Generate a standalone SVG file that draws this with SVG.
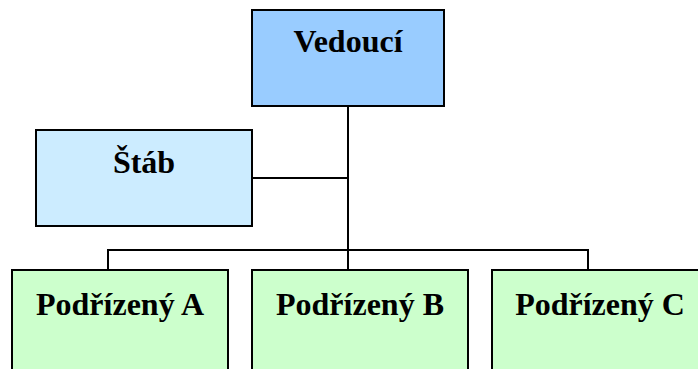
<svg xmlns="http://www.w3.org/2000/svg" width="698" height="369" viewBox="0 0 698 369">
  <style>
    .box { stroke: #000; stroke-width: 2; }
    .lead { fill: #99CCFF; }
    .staff { fill: #CCECFF; }
    .sub { fill: #CCFFCC; }
    .label { font-family: "Liberation Serif", "Times New Roman", serif; font-weight: bold; font-size: 32px; fill: #000; text-anchor: middle; }
    .wire { stroke: #000; stroke-width: 2; fill: none; }
  </style>
  <rect width="698" height="369" fill="#fff"/>

  <!-- connectors -->
  <g id="connectors">
    <line class="wire" x1="348" y1="106" x2="348" y2="270"/>
    <line class="wire" x1="252" y1="178" x2="348" y2="178"/>
    <polyline class="wire" points="108,270 108,250 588,250 588,270"/>
  </g>

  <g id="vedouci">
    <rect class="box lead" x="252" y="10" width="192" height="96"/>
    <text class="label" x="348" y="52">Vedoucí</text>
  </g>

  <g id="stab">
    <rect class="box staff" x="36" y="130" width="216" height="96"/>
    <text class="label" x="144" y="173">Štáb</text>
  </g>

  <g id="podrizeny-a">
    <rect class="box sub" x="12" y="270" width="216" height="110"/>
    <text class="label" x="120" y="315">Podřízený A</text>
  </g>

  <g id="podrizeny-b">
    <rect class="box sub" x="252" y="270" width="216" height="110"/>
    <text class="label" x="360" y="315">Podřízený B</text>
  </g>

  <g id="podrizeny-c">
    <rect class="box sub" x="492" y="270" width="216" height="110"/>
    <text class="label" x="600" y="315">Podřízený C</text>
  </g>
</svg>
